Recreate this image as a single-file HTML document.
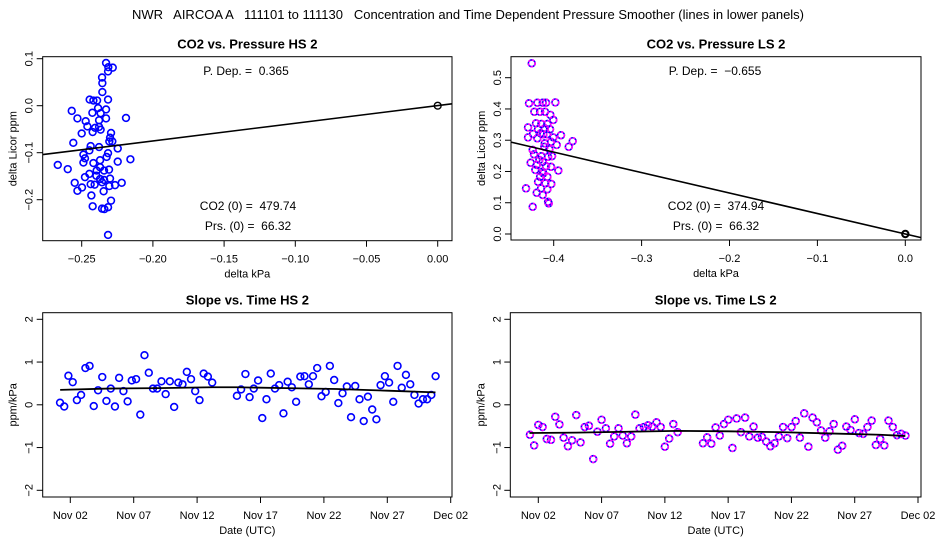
<!DOCTYPE html>
<html><head><meta charset="utf-8"><style>
html,body{margin:0;padding:0;background:#fff;}
svg{display:block;font-family:"Liberation Sans",sans-serif;}
text{white-space:pre;}
</style></head><body>
<svg id="c" width="936" height="540" viewBox="0 0 936 540" xmlns="http://www.w3.org/2000/svg">
<text x="468" y="19" font-size="13" text-anchor="middle">NWR   AIRCOA A   111101 to 111130   Concentration and Time Dependent Pressure Smoother (lines in lower panels)</text>
</svg>
<script>
// ---- data: top-left (HS scatter)
const hsX=[-0.2329,-0.2313,-0.2282,-0.2315,-0.2357,-0.2355,-0.2355,-0.2444,-0.2418,-0.2392,-0.2315,-0.2570,-0.2530,-0.2472,-0.2425,-0.2385,-0.2367,-0.2329,-0.2329,-0.2378,-0.2189,-0.2460,-0.2406,-0.2378,-0.2367,-0.2500,-0.2423,-0.2559,-0.2294,-0.2301,-0.2306,-0.2285,-0.2437,-0.2378,-0.2247,-0.2488,-0.2477,-0.2325,-0.2315,-0.2371,-0.2247,-0.2158,-0.2668,-0.2598,-0.2488,-0.2418,-0.2395,-0.2371,-0.2343,-0.2308,-0.2397,-0.2371,-0.2343,-0.2301,-0.2357,-0.2549,-0.2498,-0.2437,-0.2409,-0.2219,-0.2266,-0.2306,-0.2530,-0.2346,-0.2432,-0.2294,-0.2423,-0.2357,-0.2341,-0.2315,-0.2315,-0.2446,-0.2477,-0.2446];
const hsY=[0.091,0.082,0.081,0.073,0.060,0.048,0.029,0.013,0.011,0.011,0.013,-0.011,-0.027,-0.033,-0.015,-0.005,-0.016,-0.008,-0.027,-0.031,-0.026,-0.044,-0.047,-0.045,-0.051,-0.059,-0.056,-0.079,-0.058,-0.068,-0.076,-0.076,-0.086,-0.088,-0.091,-0.104,-0.112,-0.109,-0.101,-0.116,-0.119,-0.114,-0.126,-0.135,-0.121,-0.122,-0.138,-0.131,-0.138,-0.136,-0.149,-0.156,-0.158,-0.155,-0.163,-0.164,-0.174,-0.167,-0.168,-0.164,-0.169,-0.171,-0.181,-0.182,-0.191,-0.202,-0.214,-0.219,-0.220,-0.216,-0.275,-0.145,-0.152,-0.095];
const hsSlope=0.365;
// ---- data: top-right (LS scatter)
const lsX=[-0.4250,-0.4281,-0.3981,-0.4186,-0.4125,-0.4087,-0.4155,-0.4099,-0.4220,-0.4038,-0.4004,-0.4201,-0.4140,-0.4072,-0.4292,-0.4178,-0.4102,-0.4042,-0.4292,-0.4235,-0.4148,-0.4076,-0.3917,-0.4004,-0.4030,-0.3784,-0.3829,-0.3966,-0.4106,-0.4239,-0.4049,-0.4224,-0.4140,-0.4064,-0.4019,-0.4125,-0.4262,-0.4193,-0.4087,-0.3947,-0.4209,-0.4133,-0.4030,-0.4155,-0.4072,-0.4178,-0.4095,-0.4027,-0.4144,-0.4072,-0.4193,-0.4125,-0.4315,-0.4064,-0.4057,-0.4239,-0.4118,-0.4163,-0.4102,-0.4186,-0.4118];
const lsY=[0.546,0.418,0.421,0.420,0.420,0.420,0.391,0.391,0.391,0.381,0.365,0.354,0.352,0.352,0.341,0.335,0.338,0.335,0.309,0.320,0.322,0.319,0.316,0.309,0.295,0.297,0.279,0.285,0.279,0.269,0.271,0.255,0.249,0.247,0.249,0.231,0.228,0.221,0.217,0.203,0.205,0.199,0.215,0.183,0.183,0.167,0.162,0.160,0.146,0.143,0.132,0.125,0.146,0.103,0.098,0.087,0.194,0.237,0.290,0.306,0.319];
const lsSlope=-0.655;
// ---- data: bottom-left (HS slope vs time), day of November
const hsDays=[1.19,1.52,1.85,2.19,2.52,2.85,3.19,3.52,3.85,4.19,4.52,4.85,5.19,5.52,5.85,6.19,6.52,6.85,7.19,7.52,7.85,8.19,8.52,8.85,9.19,9.52,9.85,10.19,10.52,10.85,11.19,11.52,11.85,12.19,12.52,12.85,13.19,15.14,15.47,15.81,16.14,16.47,16.81,17.14,17.47,17.81,18.14,18.47,18.81,19.14,19.47,19.81,20.14,20.47,20.81,21.14,21.47,21.81,22.14,22.47,22.81,23.14,23.47,23.81,24.14,24.47,24.81,25.14,25.47,25.81,26.14,26.47,26.81,27.14,27.47,27.81,28.14,28.47,28.81,29.14,29.47,29.81,30.14,30.47,30.81];
const hsSlopes=[0.05,-0.04,0.68,0.53,0.11,0.23,0.86,0.91,-0.03,0.34,0.65,0.09,0.38,-0.04,0.63,0.32,0.08,0.57,0.60,-0.23,1.16,0.75,0.38,0.38,0.55,0.25,0.55,-0.05,0.52,0.48,0.77,0.60,0.32,0.11,0.73,0.66,0.52,0.21,0.36,0.72,0.18,0.38,0.57,-0.31,0.13,0.73,0.38,0.46,-0.20,0.54,0.41,0.07,0.66,0.67,0.48,0.67,0.86,0.20,0.30,0.91,0.58,0.04,0.27,0.43,-0.29,0.44,0.13,-0.38,0.19,-0.11,-0.34,0.46,0.67,0.52,0.07,0.91,0.40,0.70,0.48,0.23,0.03,0.13,0.13,0.23,0.67];
const hsSmDays=[1.2,5,9,13.2,15.1,19,23,27,30.8];
const hsSmVals=[0.35,0.38,0.39,0.41,0.41,0.39,0.37,0.33,0.29];
// ---- data: bottom-right (LS slope vs time)
const lsDays=[1.34,1.67,2.00,2.34,2.67,3.00,3.34,3.67,4.00,4.34,4.67,5.00,5.34,5.67,6.00,6.34,6.67,7.00,7.34,7.67,8.00,8.34,8.67,9.00,9.34,9.67,10.00,10.34,10.67,11.00,11.34,11.67,12.00,12.34,12.67,13.01,15.01,15.34,15.67,16.01,16.34,16.67,17.01,17.34,17.67,18.01,18.34,18.67,19.01,19.34,19.67,20.01,20.34,20.67,21.01,21.34,21.67,22.01,22.34,22.67,23.01,23.34,23.67,24.01,24.34,24.67,25.01,25.34,25.67,26.01,26.34,26.67,27.01,27.34,27.67,28.01,28.34,28.67,29.01,29.34,29.67,30.01,30.34,30.67,31.01];
const lsSlopes=[-0.70,-0.95,-0.47,-0.52,-0.80,-0.82,-0.28,-0.46,-0.77,-0.97,-0.83,-0.24,-0.88,-0.52,-0.49,-1.27,-0.63,-0.35,-0.55,-0.91,-0.74,-0.55,-0.72,-0.90,-0.74,-0.23,-0.55,-0.52,-0.48,-0.51,-0.41,-0.52,-0.98,-0.79,-0.45,-0.64,-0.90,-0.76,-0.91,-0.53,-0.72,-0.45,-0.35,-1.01,-0.32,-0.64,-0.30,-0.74,-0.51,-0.77,-0.75,-0.86,-0.97,-0.90,-0.74,-0.52,-0.78,-0.52,-0.38,-0.77,-0.20,-0.98,-0.30,-0.41,-0.60,-0.77,-0.62,-0.45,-1.05,-0.96,-0.51,-0.59,-0.34,-0.66,-0.68,-0.52,-0.37,-0.94,-0.80,-0.95,-0.37,-0.52,-0.71,-0.68,-0.72];
const lsSmDays=[1.3,5,9,13,17,21,25,29,31];
const lsSmVals=[-0.66,-0.65,-0.63,-0.61,-0.62,-0.64,-0.67,-0.70,-0.73];
const dateTicks=[2,7,12,17,22,27,32];
const dateLabels=["Nov 02","Nov 07","Nov 12","Nov 17","Nov 22","Nov 27","Dec 02"];

const NS="http://www.w3.org/2000/svg";
const svg=document.getElementById('c');
function mk(tag,attrs,parent,txt){const e=document.createElementNS(NS,tag);for(const k in attrs)e.setAttribute(k,attrs[k]);if(txt!==undefined)e.textContent=txt;(parent||svg).appendChild(e);return e;}
function lin(d0,d1,p0,p1){return v=>p0+(v-d0)*(p1-p0)/(d1-d0);}

function panel(o){
  const g=mk('g',{});
  
  
  const t=mk('text',{x:(o.L+o.R)/2,y:o.T-8,'font-size':13,'font-weight':'bold','text-anchor':'middle'},g,o.title);
  
  
  const box=mk('rect',{x:o.L,y:o.T,width:o.R-o.L,height:o.B-o.T,fill:'none',stroke:'#000','stroke-width':1},g);
  
  
  o.xt.forEach((v,i)=>{const x=o.sx(v);
    mk('line',{x1:x,x2:x,y1:o.B,y2:o.B+6,stroke:'#000'},g);
    const l=mk('text',{x:x,y:o.B+22,'font-size':11,'text-anchor':'middle'},g,o.xl[i]);
    
    });
  o.yt.forEach((v,i)=>{const y=o.sy(v);
    mk('line',{x1:o.L-6,x2:o.L,y1:y,y2:y,stroke:'#000'},g);
    const l=mk('text',{x:0,y:0,'font-size':11,'text-anchor':'middle',transform:`translate(${o.L-10},${y}) rotate(-90)`},g,o.yl[i]);
    
    });
  const xa=mk('text',{x:(o.L+o.R)/2,y:o.B+37,'font-size':11,'text-anchor':'middle'},g,o.xtitle);
  
  
  const ya=mk('text',{x:0,y:0,'font-size':11,'text-anchor':'middle',transform:`translate(${o.L-26},${(o.T+o.B)/2}) rotate(-90)`},g,o.ytitle);
  
  
  return g;
}
function pts(g,xs,ys,sx,sy,mag){
  xs.forEach((v,i)=>{const cx=sx(v),cy=sy(ys[i]);
    const c=mk('circle',{cx:cx,cy:cy,r:3.4,fill:'none',stroke:'#0000ff','stroke-width':1.6},g);
    
    
    if(mag){mk('circle',{cx:cx,cy:cy,r:3.4,fill:'none',stroke:'#ff00ff','stroke-width':1.6,'stroke-dasharray':'2.5 1.5'},g);}
  });
}
function ann(g,x,y,s){const t=mk('text',{x:x,y:y,'font-size':12,'text-anchor':'middle'},g,s);
  
  }

// Top-left
{const L=42.7,R=452,T=56.7,B=240.7;
 const sx=lin(-0.25,0,81.7,437.7), sy=lin(0,0.1,105.7,58.7);
 const g=panel({name:'hs-pressure-panel',L,R,T,B,sx,sy,title:'CO2 vs. Pressure HS 2',xt:[-0.25,-0.2,-0.15,-0.1,-0.05,0],xl:['−0.25','−0.20','−0.15','−0.10','−0.05','0.00'],yt:[-0.2,-0.1,0,0.1],yl:['−0.2','−0.1','0.0','0.1'],xtitle:'delta kPa',ytitle:'delta Licor ppm'});
 pts(g,hsX,hsY,sx,sy,false);
 const x0=-0.285,x1=0.011;
 const fl=mk('line',{x1:L,y1:sy(hsSlope*x0),x2:R,y2:sy(hsSlope*x1),stroke:'#000','stroke-width':1.6},g);
 
 
 mk('circle',{cx:sx(0),cy:sy(0),r:3.4,fill:'none',stroke:'#000','stroke-width':1.4},g);
 ann(g,246,75,'P. Dep. =  0.365');ann(g,248,210,'CO2 (0) =  479.74');ann(g,248,230,'Prs. (0) =  66.32');}
// Top-right
{const L=511,R=921,T=56.7,B=240;
 const sx=lin(-0.4,0,553.7,905.3), sy=lin(0,0.5,234,77.7);
 const g=panel({name:'ls-pressure-panel',L,R,T,B,sx,sy,title:'CO2 vs. Pressure LS 2',xt:[-0.4,-0.3,-0.2,-0.1,0],xl:['−0.4','−0.3','−0.2','−0.1','0.0'],yt:[0,0.1,0.2,0.3,0.4,0.5],yl:['0.0','0.1','0.2','0.3','0.4','0.5'],xtitle:'delta kPa',ytitle:'delta Licor ppm'});
 pts(g,lsX,lsY,sx,sy,true);
 const x0=(L-553.7)/87.9*0.1-0.4, x1=(R-553.7)/87.9*0.1-0.4;
 const fl=mk('line',{x1:L,y1:sy(lsSlope*x0),x2:R,y2:sy(lsSlope*x1),stroke:'#000','stroke-width':1.6},g);
 
 
 mk('circle',{cx:sx(0),cy:sy(0),r:3.2,fill:'none',stroke:'#000','stroke-width':2},g);
 ann(g,715,75,'P. Dep. =  −0.655');ann(g,716,210,'CO2 (0) =  374.94');ann(g,716,230,'Prs. (0) =  66.32');}
// Bottom panels
function timePanel(name,title,L,R,x02,x32,days,vals,smd,smv,mag){
  const T=312.7,B=497;
  const sx=lin(2,32,x02,x32), sy=lin(0,2,404.8,319.3);
  const g=panel({name,L,R,T,B,sx,sy,title,xt:dateTicks,xl:dateLabels,yt:[-2,-1,0,1,2],yl:['−2','−1','0','1','2'],xtitle:'Date (UTC)',ytitle:'ppm/kPa'});
  pts(g,days,vals,sx,sy,mag);
  const p=smd.map((d,i)=>sx(d)+','+sy(smv[i])).join(' ');
  const pl=mk('polyline',{points:p,fill:'none',stroke:'#000','stroke-width':1.8},g);
  
  
}
timePanel('hs-slope-panel','Slope vs. Time HS 2',42.7,452,70.3,450.7,hsDays,hsSlopes,hsSmDays,hsSmVals,false);
timePanel('ls-slope-panel','Slope vs. Time LS 2',510.3,921,538.3,918,lsDays,lsSlopes,lsSmDays,lsSmVals,true);
</script>
</body></html>
